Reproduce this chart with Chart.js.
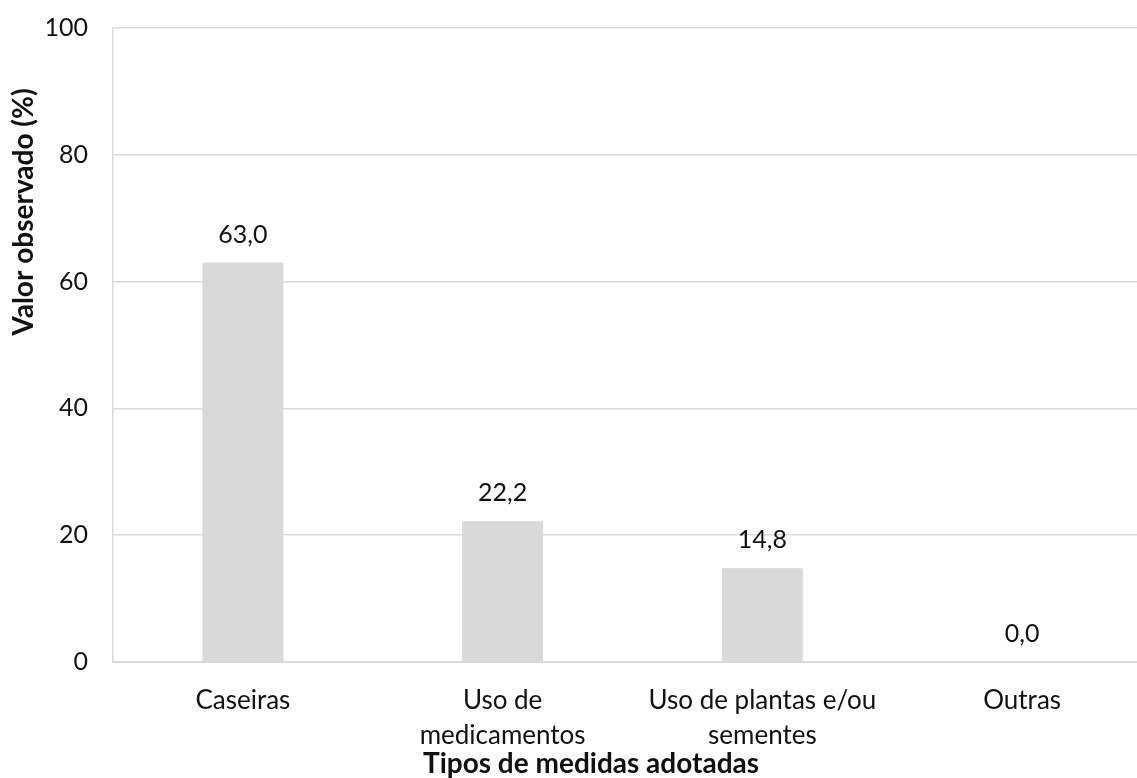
<!DOCTYPE html>
<html>
<head>
<meta charset="utf-8">
<script src="https://cdn.jsdelivr.net/npm/chart.js@4"></script>
<style>
  html, body { margin: 0; padding: 0; background: #fff; overflow: hidden; }
  #wrap { width: 1137px; height: 778px; overflow: hidden; }
</style>
</head>
<body>
<div id="wrap"><canvas id="grafico" width="1152" height="778"></canvas></div>
<script>
// dados do gráfico
const categorias = [
    'Caseiras',
    ['Uso de', 'medicamentos'],
    ['Uso de plantas e/ou', 'sementes'],
    'Outras'
];
const valores = [63.0, 22.2, 14.8, 0.0];
const ticksY = [0, 20, 40, 60, 80, 100];
const tituloX = 'Tipos de medidas adotadas';
const tituloY = 'Valor observado (%)';

const fonte = 'Lato, "Open Sans", sans-serif';

// rótulos de valor em cima das barras
const rotulosPlugin = {
    id: 'rotulos',
    afterDatasetsDraw(chart) {
        const ctx = chart.ctx;
        const meta = chart.getDatasetMeta(0);
        ctx.save();
        ctx.font = '25px ' + fonte;
        ctx.fillStyle = '#111';
        ctx.textAlign = 'center';
        ctx.textBaseline = 'middle';
        meta.data.forEach(function(bar, i) {
            const txt = valores[i].toFixed(1).replace('.', ',');
            ctx.fillText(txt, bar.x, bar.y - 28);
        });
        ctx.restore();
    }
};

// títulos dos eixos (posição igual ao Excel, fora do centro da área)
const titulosPlugin = {
    id: 'titulos',
    afterDraw(chart) {
        const ctx = chart.ctx;
        ctx.save();
        ctx.font = 'bold 28px ' + fonte;
        ctx.fillStyle = '#111';
        ctx.textAlign = 'center';
        ctx.textBaseline = 'alphabetic';
        ctx.fillText(tituloX, 591, 773);

        ctx.translate(33, 212);
        ctx.rotate(-Math.PI / 2);
        ctx.fillText(tituloY, 0, 0);
        ctx.restore();
    }
};

new Chart(document.getElementById('grafico').getContext('2d'), {
    type: 'bar',
    data: {
        labels: categorias,
        datasets: [{
            data: valores,
            backgroundColor: '#d9d9d9',
            borderWidth: 0,
            categoryPercentage: 1,
            barPercentage: 0.312
        }]
    },
    options: {
        responsive: false,
        animation: false,
        layout: { padding: { top: 28, right: 0, bottom: 0, left: 0 } },
        plugins: {
            legend: { display: false },
            tooltip: { enabled: false }
        },
        scales: {
            x: {
                grid: { display: false, drawTicks: false },
                border: { display: true, color: '#d9d9d9', width: 2 },
                ticks: {
                    color: '#111',
                    padding: 21,
                    maxRotation: 0,
                    autoSkip: false,
                    font: { family: fonte, size: 26, lineHeight: 1.35 }
                },
                afterFit: function(scale) {
                    scale.height = 116;
                    scale.paddingLeft = 0;
                    scale.paddingRight = 0;
                }
            },
            y: {
                min: 0,
                max: 100,
                afterBuildTicks: function(scale) {
                    scale.ticks = ticksY.map(function(v) { return { value: v }; });
                },
                grid: { color: '#d9d9d9', lineWidth: 1.5, drawTicks: false },
                border: { display: true, color: '#d9d9d9', width: 1.5 },
                ticks: {
                    color: '#111',
                    padding: 25,
                    font: { family: fonte, size: 25 }
                },
                afterFit: function(scale) {
                    scale.width = 113;
                    scale.paddingTop = 0;
                    scale.paddingBottom = 0;
                }
            }
        }
    },
    plugins: [rotulosPlugin, titulosPlugin]
});
</script>
</body>
</html>
